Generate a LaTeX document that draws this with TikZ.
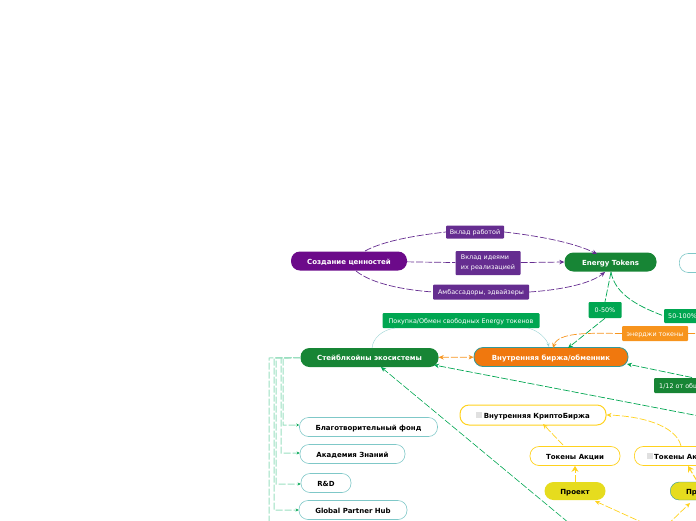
\documentclass[tikz,border=0pt]{standalone}
\usepackage{fontspec}
\setmainfont{DejaVu Sans}
\usetikzlibrary{arrows.meta}
\definecolor{purpledark}{HTML}{6C0A8A}
\definecolor{purplelabel}{HTML}{652D90}
\definecolor{greendark}{HTML}{178535}
\definecolor{greenlabel}{HTML}{00A651}
\definecolor{orangehub}{HTML}{F0780E}
\definecolor{orangelabel}{HTML}{F7941D}
\definecolor{tealedge}{HTML}{7FC8C8}
\definecolor{yellowedge}{HTML}{FFD21E}
\definecolor{yellowfill}{HTML}{E6DC1E}
\definecolor{greentrunk}{HTML}{9ADFC0}
\tikzset{
  pill/.style={rounded corners=9pt, minimum height=19pt, inner sep=0pt, text height=7pt, text depth=1pt, font=\fontsize{7}{8}\selectfont\bfseries},
  topic/.style={pill, fill=#1, text=white},
  leaf/.style={pill, draw=tealedge, fill=white, line width=0.6pt, text=black},
  yellowleaf/.style={pill, draw=yellowedge, fill=white, line width=1pt, text=black},
  tag/.style={fill=#1, text=white, rounded corners=1pt, inner sep=0pt, font=\fontsize{6.4}{10}\selectfont, align=left},
  link/.style={draw=#1, dash pattern=on 7pt off 2pt, line width=0.7pt},
  tip/.style={-{Stealth[length=5pt,width=4.5pt]}},
  bigtip/.style={-{Stealth[length=6pt,width=7pt]}},
  vine/.style={draw=tealedge!80!white, line width=0.4pt},
  trunk/.style={link=greentrunk, line width=1pt, -{Stealth[length=3pt,width=3pt,color=greenlabel]}},
}
\newcommand{\boxicon}{\textcolor{black!12}{\rule{6pt}{6pt}}\hspace{1.5pt}}
\begin{document}
\begin{tikzpicture}[x=1pt, y=-1pt]
  \useasboundingbox (0,0) rectangle (696,520);
  \clip (0,0) rectangle (696,520);
  % main nodes
  \node[topic=purpledark, minimum width=116pt] (value) at (349,261) {Создание ценностей};
  \node[topic=greendark, minimum width=92pt] (energy) at (610.5,262) {Energy Tokens};
  \node[topic=greendark, minimum width=138pt] (stable) at (369.5,357.5) {Стейблкойны экосистемы};
  \node[topic=orangehub, draw=teal!80, line width=0.8pt, minimum width=154pt] (market) at (551,357) {Внутренняя биржа/обменник};
  \node[pill, draw=tealedge, fill=white, line width=0.6pt, minimum width=60pt, anchor=west] (right) at (679,263) {};
  % leaves
  \node[leaf, minimum width=138pt] (fund) at (368.5,427) {Благотворительный фонд};
  \node[leaf, minimum width=105pt] (academy) at (352.5,454) {Академия Знаний};
  \node[leaf, minimum width=50pt] (rnd) at (326,483) {R\&D};
  \node[leaf, minimum width=108pt] (hub) at (353,510) {Global Partner Hub};
  % tokens
  \node[yellowleaf, minimum width=146pt, minimum height=20pt] (crypto) at (533,415) {\boxicon Внутренняя КриптоБиржа};
  \node[pill, draw=yellowedge, fill=white, line width=0.7pt, minimum width=90pt] (shares) at (575,456) {Токены Акции};
  \node[pill, draw=yellowedge, fill=white, line width=0.7pt, minimum width=90pt, anchor=west] (sharesb) at (634,456) {\boxicon Токены Акции};
  \node[pill, fill=yellowfill, text=black, minimum width=61pt, minimum height=18pt] (project) at (575,491) {Проект};
  \node[pill, fill=yellowfill, draw=teal!80, text=black, minimum width=61pt, minimum height=18pt, anchor=west] (projectb) at (670,491) {Проект};
  % labels
  \node[tag=purplelabel, text height=6.5pt, text depth=1pt, minimum width=58pt, minimum height=13pt] (work) at (475,232) {Вклад работой};
  \node[tag=purplelabel, minimum width=65pt, minimum height=24pt] (ideas) at (488,263) {Вклад идеями\\их реализацией};
  \node[tag=purplelabel, text height=6.5pt, text depth=1pt, minimum width=96pt, minimum height=15pt] (ambass) at (481,292) {Амбассадоры, эдвайзеры};
  \node[tag=greenlabel, text height=6.5pt, text depth=1pt, minimum width=33pt, minimum height=16pt] (part) at (605,310) {0-50\%};
  \node[tag=greenlabel, text height=6.5pt, text depth=1pt, inner xsep=4pt, minimum height=14pt, anchor=west] (full) at (664,316) {50-100\%};
  \node[tag=greenlabel, text height=6.5pt, text depth=1pt, minimum width=157pt, minimum height=15pt] (swap) at (461,320.5) {Покупка/Обмен свободных Energy токенов};
  \node[tag=orangelabel, text height=6.5pt, text depth=1pt, minimum width=66pt, minimum height=15pt] (tokens) at (655,333.5) {энерджи токены};
  \node[tag=greendark, text height=6.5pt, text depth=1pt, inner xsep=5pt, minimum height=15pt, anchor=west] (twelfth) at (654,385.5) {1/12 от общего};
  % free ends
  \coordinate (farright) at (720,333);
  \coordinate (feeder) at (720,420);
  \coordinate (diag) at (575,528);
  \coordinate (root) at (661,531);
  \coordinate (down) at (269,530);
  % links
  \draw[link=purplelabel] (365,251) .. controls (385,240) and (420,235) .. (work.west);
  \draw[link=purplelabel, tip] (work.east) .. controls (540,236) and (575,243) .. (597,254);
  \draw[link=purplelabel] (value) -- (ideas);
  \draw[link=purplelabel, tip] (ideas) -- (energy.west);
  \draw[link=purplelabel] (356,271) .. controls (372,284) and (405,290) .. (ambass.west);
  \draw[link=purplelabel, tip] (ambass.east) .. controls (560,290) and (590,284) .. (605,272);
  \draw[link=greenlabel] (611,272) -- (part.north);
  \draw[link=greenlabel, tip] (part.south) -- (568,348);
  \draw[link=greenlabel] (611,272) .. controls (615,295) and (640,307) .. (full.west);
  \draw[link=orangelabel, tip] (tokens.west) .. controls (590,333) and (558,332) .. (553,348);
  \draw[link=orangelabel] (tokens.east) -- (farright);
  \draw[link=orangelabel, {Stealth[length=5pt,width=4.5pt]}-{Stealth[length=5pt,width=4.5pt]}] (stable) -- (market);
  \draw[link=greenlabel, tip] (692,377.5) -- (627,364);
  \draw[link=greenlabel, tip] (feeder) -- (434,365);
  \draw[link=greenlabel, line width=0.6pt, tip] (diag) -- (381,367);
  \draw[link=yellowedge, tip] (563,445) -- (543,424);
  \draw[link=yellowedge, tip] (681,446) .. controls (676,425) and (640,416) .. (crypto.east);
  \draw[link=yellowedge, line width=1pt, bigtip] (project) -- (shares);
  \draw[link=yellowedge, line width=1pt, bigtip] (697,481) -- (688,466);
  \draw[link=yellowedge, tip] (root) -- (595,501);
  \draw[link=yellowedge, tip] (root) -- (690,503);
  \draw[vine] (372,348) .. controls (373,338) and (382,330) .. (395,328);
  \draw[vine, -{Stealth[length=4pt,width=3pt]}] (528,328) .. controls (540,331) and (547,340) .. (549,347);
  \draw[trunk] (stable.west) -- (283,358) |- ([yshift=2pt]fund.west);
  \draw[trunk] (stable.west) -- (281,358) |- ([yshift=1pt]academy.west);
  \draw[trunk] (stable.west) -- (276,358) |- ([yshift=-1pt]rnd.west);
  \draw[trunk] (stable.west) -- (274,358) |- (hub.west);
  \draw[link=greentrunk, line width=1pt] (stable.west) -- (269,358) -- (down);
\end{tikzpicture}
\end{document}
